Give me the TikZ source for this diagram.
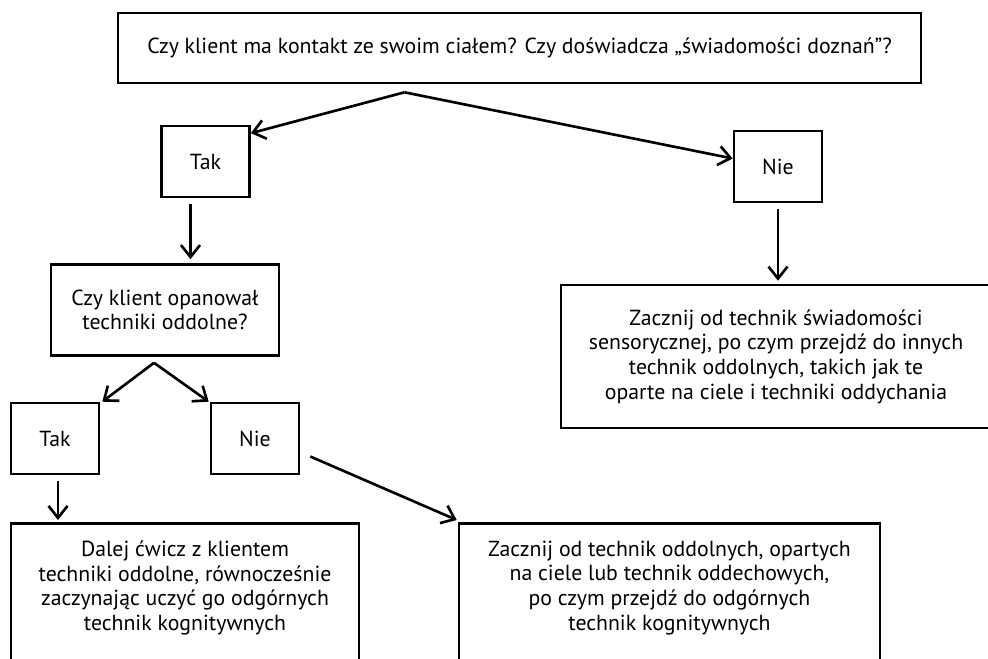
\documentclass[tikz,border=0pt]{standalone}
\usepackage{fontspec}
\setmainfont{PT Sans}
\usepackage{tikz}
\usetikzlibrary{positioning,arrows.meta,calc}
\tikzset{
  box/.style={draw,line width=1.5pt,inner sep=0pt,align=center,font=\fontsize{12.4}{14}\selectfont},
  ans/.style={box,minimum width=1.76cm,minimum height=1.42cm},
  cut/.style={box,anchor=north,inner ysep=0.35cm,text depth=1.6cm},
  arr/.style={-{Straight Barb[length=2.4mm,width=3.8mm]},line width=1.5pt},
}
\begin{document}
\begin{tikzpicture}[x=0.02cm,y=-0.02cm]
  \useasboundingbox (0,0) rectangle (988,659);
  \clip (0,0) rectangle (988,659);
  % questions and answers
  \node[box,minimum width=16.06cm,minimum height=1.4cm] (q1) at (519.5,48)
    {Czy klient ma kontakt ze swoim ciałem? Czy doświadcza „świadomości doznań”?};
  \node[ans] (tak1) at (205.5,161.5) {Tak};
  \node[ans] (nie1) at (778,166.5) {Nie};
  \node[box,minimum width=4.56cm,minimum height=1.82cm] (q2) at (165,310)
    {Czy klient opanował\\techniki oddolne?};
  \node[ans] (tak2) at (55,438.5) {Tak};
  \node[ans] (nie2) at (255,438.5) {Nie};
  % recommendations
  \node[box,minimum width=8.6cm,minimum height=2.86cm] (r1) at (776,356.5)
    {Zacznij od technik świadomości\\sensorycznej, po czym przejdź do innych\\technik oddolnych, takich jak te\\oparte na ciele i techniki oddychania};
  \node[cut,minimum width=6.96cm] (r2) at (185,522)
    {Dalej ćwicz z klientem\\techniki oddolne, równocześnie\\zaczynając uczyć go odgórnych\\technik kognitywnych};
  \node[cut,minimum width=8.42cm] (r3) at (669.5,522)
    {Zacznij od technik oddolnych, opartych\\na ciele lub technik oddechowych,\\po czym przejdź do odgórnych\\technik kognitywnych};
  % connectors
  \coordinate (fork1) at ($(q1.south)+(-115,8)$);
  \draw[arr] (fork1) -- (tak1.32);
  \draw[arr] (fork1) -- (nie1.170);
  \draw[arr] ($(tak1.south)+(-15,6)$) -- ($(tak1.south |- q2.north)+(-15,-4)$);
  \draw[arr] ($(nie1.south)+(0,6)$) -- ($(nie1.south |- r1.north)+(0,-3)$);
  \coordinate (fork2) at ($(q2.south)+(-11,6)$);
  \draw[arr] (fork2) -- ($(tak2.north east)+(2,0)$);
  \draw[arr] (fork2) -- ($(nie2.north west)+(-1,0)$);
  \draw[arr] ($(tak2.south)+(3,6)$) -- ($(tak2.south |- r2.north)+(3,-2)$);
  \draw[arr] ($(nie2.east)+(10,18)$) -- ($(r3.north west)+(-1,-2)$);
\end{tikzpicture}
\end{document}
